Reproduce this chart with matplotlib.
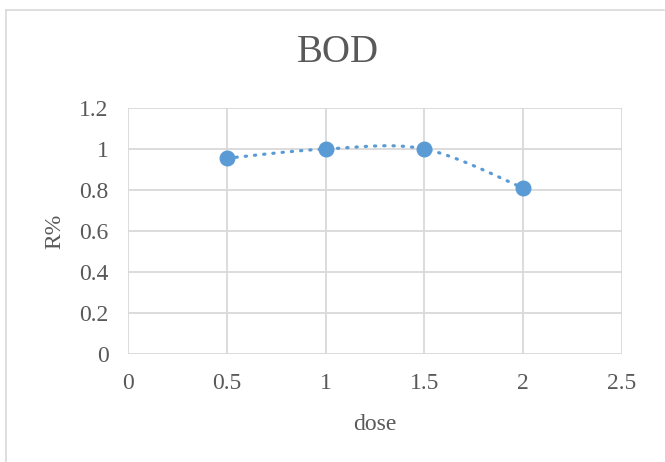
import matplotlib
matplotlib.use("Agg")
import matplotlib.pyplot as plt
import numpy as np

# data
dose = [0.5, 1.0, 1.5, 2.0]
removal = [0.955, 1.0, 1.0, 0.81]
x_ticks = [0, 0.5, 1, 1.5, 2, 2.5]
x_tick_labels = ["0", "0.5", "1", "1.5", "2", "2.5"]
y_ticks = [0, 0.2, 0.4, 0.6, 0.8, 1.0, 1.2]
y_tick_labels = ["0", "0.2", "0.4", "0.6", "0.8", "1", "1.2"]

plt.rcParams['font.family'] = ['Liberation Serif', 'DejaVu Serif']

blue = '#5B9BD5'
grid_col = '#D9D9D9'
text_col = '#595959'


def smooth_line(xs, ys, steps=40):
    # Catmull-Rom style smoothing like Excel's "smoothed line"
    xs = np.asarray(xs, float)
    ys = np.asarray(ys, float)
    px = np.concatenate([[xs[0]], xs, [xs[-1]]])
    py = np.concatenate([[ys[0]], ys, [ys[-1]]])
    out_x, out_y = [], []
    for i in range(1, len(px) - 2):
        t = np.linspace(0, 1, steps)
        for arr, out in ((px, out_x), (py, out_y)):
            p0, p1, p2, p3 = arr[i - 1], arr[i], arr[i + 1], arr[i + 2]
            c1 = p1 + (p2 - p0) / 6
            c2 = p2 - (p3 - p1) / 6
            out.extend((1 - t) ** 3 * p1 + 3 * (1 - t) ** 2 * t * c1
                       + 3 * (1 - t) * t ** 2 * c2 + t ** 3 * p2)
    return out_x, out_y


fig = plt.figure(figsize=(6.65, 4.62), dpi=100)
ax = fig.add_axes([128 / 665, 1 - 354 / 462, (622 - 128) / 665, (354 - 108) / 462])

sx, sy = smooth_line(dose, removal)
ax.plot(sx, sy, color=blue, lw=2.3, linestyle=(0, (0.4, 2.5)),
        dash_capstyle='round', zorder=3)
ax.plot(dose, removal, 'o', color=blue, markersize=10.5, zorder=4)

ax.set_xlim(0, 2.5)
ax.set_ylim(0, 1.2)
ax.set_xticks(x_ticks)
ax.set_xticklabels(x_tick_labels)
ax.set_yticks(y_ticks)
ax.set_yticklabels(y_tick_labels)
ax.grid(True, color=grid_col, lw=1.3)
ax.set_axisbelow(True)
for s in ax.spines.values():
    s.set_visible(False)
ax.tick_params(axis='x', length=0, labelsize=17, colors=text_col, pad=14)
ax.tick_params(axis='y', length=0, labelsize=17, colors=text_col, pad=14)

fig.text(338 / 665, 1 - 52 / 462, "BOD", fontsize=28, color=text_col,
         ha='center', va='center')
ax.set_xlabel("dose", fontsize=17, color=text_col, labelpad=14)
ax.set_ylabel("R%", fontsize=17, color=text_col, labelpad=10)

# chart frame (left and top edges visible)
fig.add_artist(plt.Line2D([6 / 665, 6 / 665], [0, 1 - 10 / 462],
                          transform=fig.transFigure, color=grid_col, lw=1.2))
fig.add_artist(plt.Line2D([6 / 665, 664 / 665], [1 - 10 / 462, 1 - 10 / 462],
                          transform=fig.transFigure, color=grid_col, lw=1.2))

fig.savefig("out.png", dpi=100)
